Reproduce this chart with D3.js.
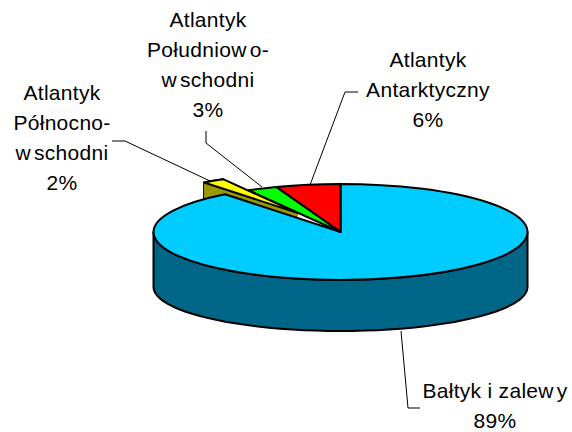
<!DOCTYPE html>
<html>
<head>
<meta charset="utf-8">
<script src="https://cdn.jsdelivr.net/npm/d3@7"></script>
<style>
  html, body { margin: 0; padding: 0; background: #fff; }
  text { font-family: "Liberation Sans", Arial, sans-serif; font-size: 21px; letter-spacing: 0.3px; fill: #000; }
</style>
</head>
<body>
<div id="chart"></div>
<script>
// slices go clockwise from 12 o'clock
const categories = ["Bałtyk i zalewy", "Atlantyk Północno-wschodni", "Atlantyk Południowo-wschodni", "Atlantyk Antarktyczny"];
const shares = [89.4, 2.4, 2.6, 5.6];
const topColors = ["#00ccff", "#ffff00", "#00ff00", "#ff0000"];
const sideColors = ["#006688", "#999900", "#008800", "#880000"];

const labelLines = [
  ["Bałtyk i zalewy"],
  ["Atlantyk", "Północno-", "wschodni"],
  ["Atlantyk", "Południowo-", "wschodni"],
  ["Atlantyk", "Antarktyczny"]
];
const labelPos = [[495, 398], [62, 100], [208, 27], [428, 67]];
const leaders = [
  [[401, 331], [408, 408], [420, 408]],
  [[112, 141], [125, 141], [210, 181]],
  [[206, 131], [206, 143], [262, 187]],
  [[358, 92], [345, 92], [310, 185]]
];

const width = 572;
const height = 432;
const cx = 340.5;
const cy = 232;
const rx = 187;
const ry = 48;
const bottomCy = 287;
const bottomRy = 44;

// the small yellow slice is pulled out of the pie and drawn smaller
const pulled = 1;
const pullR = 152;
const pullDist = 85;
const pullAngle = -30 * Math.PI / 180;

const svg = d3
  .select("#chart")
  .append("svg")
  .attr("width", width)
  .attr("height", height)
  .style("display", "block");

const arcs = d3.pie().sort(null)(shares);

const rScale = d3.scaleLinear().domain([0, rx]).range([0, ry]);
const bScale = d3.scaleLinear().domain([0, rx]).range([0, bottomRy]);

function project(a, r, y0, scale) {
  return [cx + r * Math.sin(a), y0 - scale(r * Math.cos(a))];
}

const line = d3.line();
const off = [pullDist * Math.sin(pullAngle), pullDist * Math.cos(pullAngle)];

function pulledPoint(a, r, y0, scale) {
  return project(a, r, y0, scale).map((v, i) =>
    i === 0 ? v + off[0] : v - scale(off[1])
  );
}

const outline = g =>
  g.attr("stroke", "#000").attr("stroke-width", 2).attr("stroke-linejoin", "round");

// yellow slice: side faces first, everything else paints over them
const y = arcs[pulled];
const ySide = d3.range(0, 13).map(i => y.startAngle + (i / 12) * (y.endAngle - y.startAngle));
svg
  .append("path")
  .attr("d", line(
    ySide.map(a => pulledPoint(a, pullR, cy, rScale))
      .concat(ySide.slice().reverse().map(a => pulledPoint(a, pullR, bottomCy, bScale)))
  ) + "Z")
  .attr("fill", sideColors[pulled])
  .call(outline);
// no stroke here, the seam between the two olive faces does not show
svg
  .append("path")
  .attr("d", line([
    pulledPoint(y.startAngle, pullR, cy, rScale),
    pulledPoint(y.startAngle, pullR, bottomCy, bScale),
    pulledPoint(0, 0, bottomCy, bScale),
    pulledPoint(0, 0, cy, rScale)
  ]) + "Z")
  .attr("fill", sideColors[pulled]);

// wall of the big slice, only the front half shows
const wall = d3.range(0, 49).map(i => Math.PI / 2 + (i / 48) * Math.PI);
svg
  .append("path")
  .attr("d", line(
    wall.map(a => project(a, rx, cy, rScale))
      .concat(wall.slice().reverse().map(a => project(a, rx, bottomCy, bScale)))
  ) + "Z")
  .attr("fill", sideColors[0])
  .call(outline);

const arc = d3.arc();

function topFace(d, i, r, tx, ty) {
  svg
    .append("path")
    .attr("d", arc({ innerRadius: 0, outerRadius: r, startAngle: d.startAngle, endAngle: d.endAngle }))
    .attr("transform", `translate(${tx},${ty}) scale(1,${ry / rx})`)
    .attr("vector-effect", "non-scaling-stroke")
    .attr("fill", topColors[i])
    .call(outline);
}

// order matters, reference has blue under the others
[0, 3, 2].forEach(i => topFace(arcs[i], i, rx, cx, cy));
topFace(y, pulled, pullR, cx + off[0], cy - rScale(off[1]));

// leader lines
svg
  .append("g")
  .selectAll("path")
  .data(leaders)
  .join("path")
  .attr("d", d => line(d))
  .attr("fill", "none")
  .attr("stroke", "#000")
  .attr("stroke-width", 1);

// labels, the old renderer leaves a little gap after each w
const labels = svg
  .append("g")
  .selectAll("text")
  .data(categories)
  .join("text")
  .attr("text-anchor", "middle")
  .attr("transform", (d, i) => `translate(${labelPos[i][0]},${labelPos[i][1]})`);

labels.each(function(d, i) {
  const lines = labelLines[i].concat(`${Math.round(shares[i])}%`);
  lines.forEach((txt, n) => {
    const row = d3.select(this).append("tspan").attr("x", 0).attr("y", n * 30);
    txt.split(/(?<=w)/).forEach((part, k) => {
      row.append("tspan").attr("dx", k ? 3 : 0).text(part);
    });
  });
});
</script>
</body>
</html>
